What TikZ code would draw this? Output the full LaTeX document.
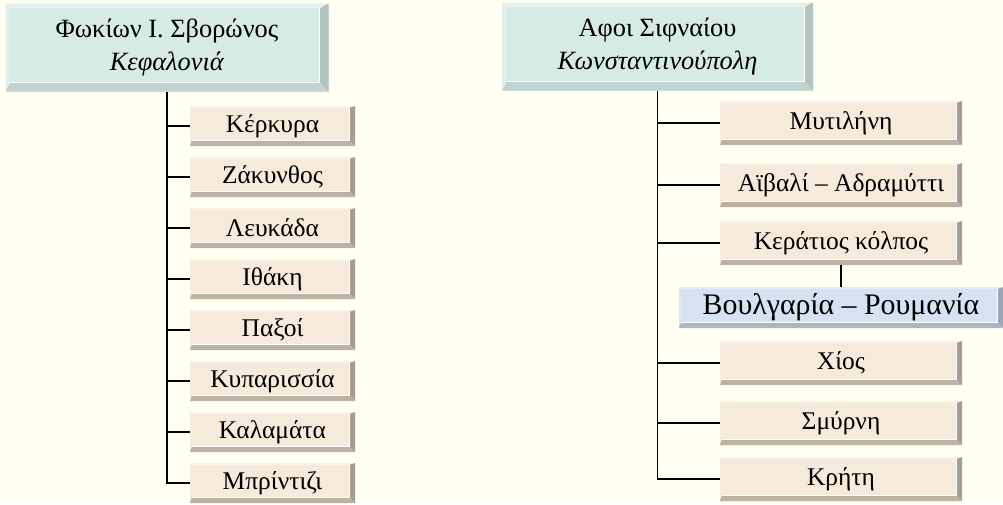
\documentclass[tikz,border=0pt]{standalone}
\usepackage{fontspec}
\setmainfont{Liberation Serif}
\usepackage{tikz}

\definecolor{paper}{HTML}{FFFFF2}
\definecolor{headface}{HTML}{D6EAE6}
\definecolor{headlight}{HTML}{E4F2EF}
\definecolor{headright}{HTML}{B2C4C0}
\definecolor{headbottom}{HTML}{C2D4D0}
\definecolor{placeface}{HTML}{F6EADA}
\definecolor{placelight}{HTML}{FAF2E6}
\definecolor{placeright}{HTML}{A69E94}
\definecolor{placebottom}{HTML}{BCB2A4}
\definecolor{subface}{HTML}{D4E2F2}
\definecolor{sublight}{HTML}{E2ECF8}
\definecolor{subright}{HTML}{98A6B6}
\definecolor{subbottom}{HTML}{A8B6C6}

\def\px{0.02cm}

% bevelled box: face / light / right / bottom / thin / thick
\tikzset{bevel/.style n args={6}{rectangle, fill=#1, inner sep=0pt,
  path picture={
    \coordinate (nw) at (path picture bounding box.north west);
    \coordinate (ne) at (path picture bounding box.north east);
    \coordinate (sw) at (path picture bounding box.south west);
    \coordinate (se) at (path picture bounding box.south east);
    \fill[#2] (nw) -- (ne) -- ([shift={(-#6,-#5)}]ne) -- ([shift={(#5,-#5)}]nw) -- cycle;
    \fill[#2!90!#4] (nw) -- (sw) -- ([shift={(#5,#6)}]sw) -- ([shift={(#5,-#5)}]nw) -- cycle;
    \fill[#3] (ne) -- (se) -- ([shift={(-#6,#6)}]se) -- ([shift={(-#6,-#5)}]ne) -- cycle;
    \fill[#4] (sw) -- (se) -- ([shift={(-#6,#6)}]se) -- ([shift={(#5,#6)}]sw) -- cycle;
    \draw[white, line width=0.4pt] ([shift={(#5,#6)}]sw) -- ([shift={(-#6,#6)}]se) -- ([shift={(-#6,-#5)}]ne);
  }}}

\tikzstyle{head} = [bevel={headface}{headlight}{headright}{headbottom}{2.8pt}{5pt},
                 align=center, minimum height=88*\px, font=\fontsize{15}{19}\selectfont]
\tikzstyle{place} = [bevel={placeface}{placelight}{placeright}{placebottom}{1.2pt}{3.4pt},
                 minimum height=44*\px]
\tikzstyle{subplace} = [bevel={subface}{sublight}{subright}{subbottom}{1.2pt}{3pt},
                 minimum height=41*\px, minimum width=324*\px,
                 font=\fontsize{17}{20}\selectfont]
\tikzstyle{branch} = [draw=black, line width=1pt]

\begin{document}
\begin{tikzpicture}[x=\px, y=-\px, font=\fontsize{14.5}{17}\selectfont]

\fill[paper] (0,0) rectangle (1003,504);
\useasboundingbox (0,0) rectangle (1003,504);

% left family
\node [head, minimum width=323*\px] at (167,47.5) (ltop)
	{Φωκίων Ι. Σβορώνος\\ \textit{Κεφαλονιά}};
\foreach \i/\place in {0/Κέρκυρα, 1/Ζάκυνθος, 2/Λευκάδα, 3/Ιθάκη,
		4/Παξοί, 5/Κυπαρισσία, 6/Καλαμάτα, 7/Μπρίντιζι}
	\node [place, minimum width=165*\px, minimum height=40*\px]
		at (272.5,{126+51*\i}) (l\i) {\place};
\draw [branch] (ltop.south) |- (l7.west);
\foreach \i in {0,...,6}
	\draw [branch] (ltop.south |- l\i.west) -- (l\i.west);

% right family
\node [head, minimum width=311*\px] at (657.5,46.5) (rtop)
	{Αφοι Σιφναίου\\ \textit{Κωνσταντινούπολη}};
\foreach \i/\y/\place in {1/123/Μυτιλήνη, 2/185/Αϊβαλί -- Αδραμύττι,
		3/243/Κεράτιος κόλπος, 4/363/Χίος, 5/423/Σμύρνη, 6/479/Κρήτη}
	\node [place, minimum width=242*\px] at (841,\y) (r\i) {\place};
\node [subplace] at (841,307.5) (rsub) {Βουλγαρία -- Ρουμανία};
\draw [branch] (rtop.south) |- (r6.west);
\foreach \i in {1,...,5}
	\draw [branch] (rtop.south |- r\i.west) -- (r\i.west);
\draw [line width=0.6pt] (r3.south) -- (rsub.north);

\end{tikzpicture}
\end{document}
